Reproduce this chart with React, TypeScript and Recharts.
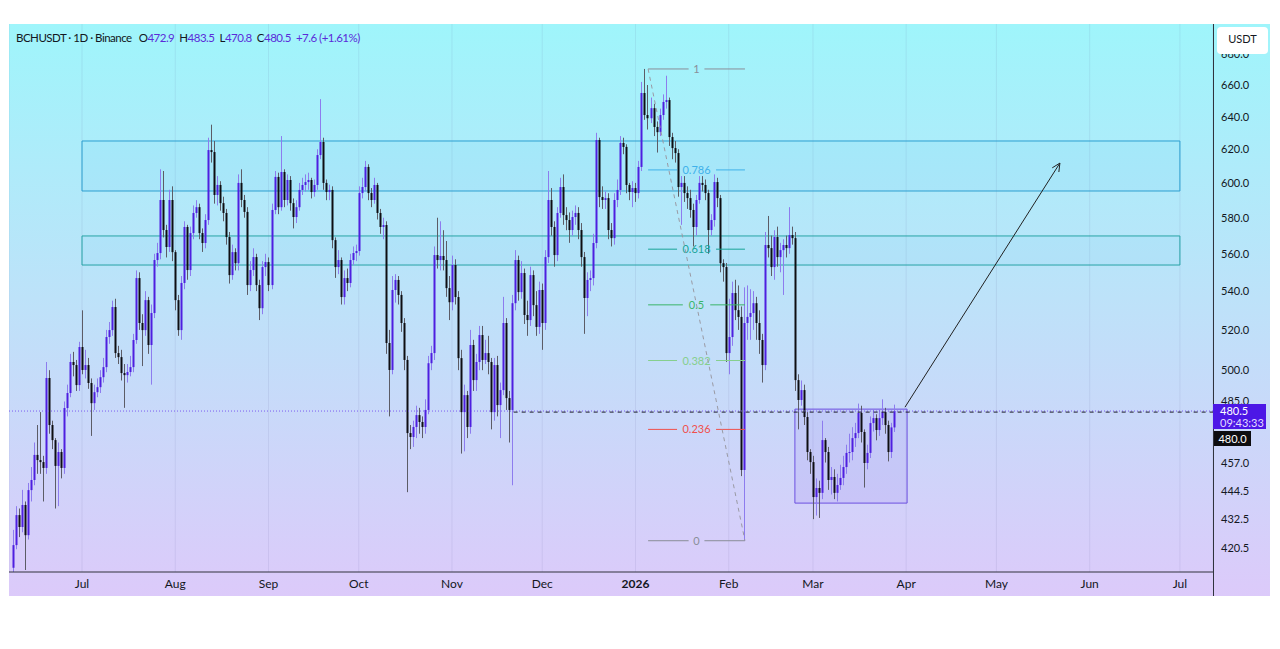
import React from 'react';
import {
  ComposedChart,
  Bar,
  XAxis,
  YAxis,
  CartesianGrid,
  ReferenceArea,
  ReferenceLine,
} from 'recharts';

// day 0 = 1 Jul 2025, first candle is 8 Jun 2025 (day -23)
const firstDay = -23;
const firstOpen = 412.5;

const closes = [
  421.7, 434.2, 429.2, 438.5, 425.8, 444.9, 449.3, 460.4, 458.1, 457.2,
  454.6, 496.2, 474.0, 467.1, 455.5, 461.7, 454.6, 481.9, 489.0, 504.0,
  502.5, 492.8, 511.4, 500.1, 502.5, 493.8, 484.2, 489.4, 491.8, 496.6,
  501.5, 516.4, 519.9, 531.7, 508.4, 506.4, 498.6, 497.6, 499.1, 501.5,
  514.9, 546.9, 523.5, 519.9, 535.3, 512.4, 528.6, 556.6, 560.4, 590.1,
  573.1, 563.7, 590.1, 560.9, 535.3, 519.9, 544.3, 574.8, 551.2, 571.4,
  582.7, 586.0, 571.4, 565.9, 578.7, 619.5, 618.3, 593.0, 598.8, 588.3,
  582.7, 569.2, 548.5, 560.9, 554.9, 600.0, 590.1, 583.3, 543.2, 551.2,
  558.2, 543.2, 531.1, 552.8, 555.5, 543.2, 584.4, 603.5, 586.0, 606.4,
  590.1, 601.7, 588.3, 580.4, 586.0, 595.9, 598.8, 600.5, 601.7, 594.7,
  598.8, 616.5, 624.4, 600.0, 594.7, 595.9, 567.5, 552.8, 556.6, 536.9,
  546.9, 544.3, 556.6, 560.4, 561.5, 594.1, 597.6, 609.4, 594.1, 590.1,
  598.8, 582.7, 574.8, 575.9, 513.4, 500.1, 540.6, 545.9, 538.0, 523.5,
  505.0, 470.3, 468.5, 473.1, 478.6, 475.4, 473.1, 481.0, 503.4, 508.4,
  559.3, 556.6, 558.8, 556.6, 541.6, 534.2, 553.9, 536.9, 505.9, 480.0,
  488.0, 473.1, 512.4, 495.2, 504.0, 517.4, 505.0, 508.4, 504.0, 480.0,
  502.5, 483.3, 490.4, 523.5, 486.6, 481.0, 533.7, 556.6, 539.5, 549.6,
  527.6, 525.0, 548.5, 532.7, 521.5, 540.6, 523.5, 558.2, 590.1, 574.8,
  559.3, 582.7, 597.6, 581.5, 578.7, 573.1, 580.4, 582.7, 573.1, 558.2,
  536.4, 545.9, 546.9, 565.9, 625.6, 591.8, 590.1, 591.2, 573.1, 568.6,
  590.1, 595.9, 623.8, 621.4, 598.8, 594.7, 597.0, 594.1, 609.4, 654.9,
  641.0, 639.0, 645.3, 633.6, 630.4, 641.0, 649.2, 650.4, 627.4, 620.7,
  617.7, 597.6, 600.0, 594.1, 591.2, 584.4, 574.8, 590.1, 600.0, 598.8,
  594.1, 573.1, 578.7, 600.5, 591.2, 554.9, 552.8, 508.4, 516.4, 539.0,
  530.1, 526.6, 453.7, 523.5, 526.6, 528.6, 533.7, 523.5, 514.9, 502.5,
  564.8, 563.1, 552.8, 569.2, 558.2, 562.0, 564.8, 563.1, 570.3, 568.6,
  495.2, 485.7, 490.4, 477.7, 461.7, 457.2, 441.9, 445.8, 443.7, 467.1,
  461.7, 449.3, 450.6, 443.7, 447.1, 450.2, 455.0, 461.3, 461.7, 468.0,
  470.3, 479.6, 470.8, 456.8, 461.3, 474.9, 477.2, 471.7, 477.2, 480.0,
  474.0, 461.7, 472.9, 480.5,
];

const highs = [
  428, 438, 437, 445, 440, 448, 455, 466, 474, 480,
  460, 504, 500, 476, 468, 466, 463, 485, 493, 508,
  509, 505, 514, 530, 510, 506, 496, 493, 496, 500,
  506, 520, 524, 535, 536, 512, 510, 503, 503, 507,
  518, 551, 550, 528, 540, 537, 533, 560, 566, 608,
  607, 576, 596, 598, 562, 538, 548, 578, 576, 575,
  587, 590, 588, 574, 582, 627, 635, 625, 604, 601,
  592, 585, 572, 565, 563, 605, 608, 593, 586, 556,
  563, 560, 546, 556, 560, 558, 588, 607, 606, 628,
  608, 605, 604, 591, 590, 600, 603, 605, 606, 603,
  602, 620, 651, 627, 602, 599, 598, 569, 562, 558,
  551, 552, 560, 564, 565, 598, 603, 613, 611, 597,
  603, 600, 585, 580, 578, 520, 548, 549, 548, 540,
  526, 507, 474, 476, 483, 482, 478, 486, 507, 512,
  564, 580, 578, 573, 567, 548, 559, 557, 540, 510,
  493, 490, 520, 515, 508, 522, 522, 515, 517, 506,
  506, 507, 494, 537, 526, 490, 538, 562, 559, 556,
  552, 535, 553, 551, 540, 545, 544, 562, 607, 597,
  578, 586, 603, 605, 586, 583, 584, 587, 586, 577,
  561, 550, 551, 571, 630, 627, 598, 595, 594, 577,
  594, 602, 628, 627, 623, 600, 601, 600, 613, 662,
  670.4, 660, 652, 648, 637, 645, 654, 666, 652, 630,
  625, 620, 604, 604, 598, 596, 588, 593, 604, 604,
  602, 596, 582, 605, 603, 593, 557, 555, 536, 545,
  546, 543, 532, 542, 543, 541, 540, 537, 530, 518,
  572, 581, 570, 573, 575, 566, 568, 570, 586, 575,
  572, 498, 495, 493, 480, 463, 460, 450, 449, 476,
  468, 464, 455, 454, 452, 456, 460, 465, 470, 473,
  475, 484, 483, 472, 465, 478, 481, 479, 481, 486,
  482, 476, 475, 483.5,
];

const lows = [
  410.8, 420, 425, 427, 411.6, 424, 440, 447, 452, 452,
  440, 452, 470, 463, 437, 438, 450, 452, 478, 487,
  497, 490, 490, 498, 496, 491, 469, 481, 487, 489,
  494, 499, 513, 517, 506, 503, 495, 482, 494, 497,
  499, 513, 520, 502, 517, 508, 493, 526, 553, 557,
  569, 558, 561, 556, 530, 517, 515, 541, 546, 548,
  568, 580, 568, 561, 563, 576, 612, 588, 587, 584,
  578, 565, 544, 546, 551, 551, 586, 580, 538, 540,
  548, 540, 525, 528, 548, 540, 541, 582, 582, 584,
  586, 587, 584, 574, 577, 584, 593, 595, 596, 591,
  592, 596, 614, 596, 590, 590, 563, 547, 549, 533,
  533, 540, 542, 554, 556, 559, 591, 595, 590, 586,
  588, 579, 571, 568, 508, 478, 498, 534, 533, 519,
  500, 444, 463, 464, 468, 470, 468, 470, 479, 500,
  505, 552, 551, 551, 537, 525, 530, 533, 500, 461,
  462, 468, 470, 490, 490, 500, 500, 503, 498, 472,
  476, 478, 468, 488, 481, 466, 447, 530, 535, 536,
  523, 517, 522, 527, 517, 518, 510, 520, 555, 570,
  553, 556, 580, 576, 573, 566, 570, 576, 568, 553,
  518, 527, 540, 543, 563, 586, 585, 585, 568, 564,
  565, 586, 593, 617, 594, 590, 586, 589, 591, 607,
  638, 632, 636, 628, 618, 628, 638, 645, 622, 614,
  612, 592, 576, 589, 585, 580, 564, 570, 588, 595,
  590, 560, 570, 575, 586, 550, 545, 504, 498, 512,
  525, 520, 451, 423.5, 515, 515, 520, 515, 508, 494,
  500, 558, 548, 546, 553, 550, 538, 558, 560, 565,
  490, 472, 483, 474, 458, 452, 432.5, 434, 433, 441,
  457, 445, 443, 441, 440, 445, 447, 452, 457, 458,
  464, 468, 466, 446, 454, 459, 471, 467, 469, 474,
  470, 457.5, 459, 470.8,
];

const monthDays = [0, 31, 62, 92, 123, 153, 184, 215, 243, 274, 304, 335, 365];
const monthNames = ['Jul', 'Aug', 'Sep', 'Oct', 'Nov', 'Dec', '2026', 'Feb', 'Mar', 'Apr', 'May', 'Jun', 'Jul'];
const priceTicks = [420.5, 432.5, 444.5, 457, 485, 500, 520, 540, 560, 580, 600, 620, 640, 660, 680];

// fib retracement anchors (day, price)
const fibHigh = { day: 188.2, price: 670.4 };
const fibLow = { day: 220.4, price: 423.5 };
const fibLevels = [1, 0.786, 0.618, 0.5, 0.382, 0.236, 0];
const fibColors = ['#8a8e98', '#3fb1ea', '#17a398', '#3bb56a', '#86cf8e', '#f0504c', '#8a8e98'];

const FONT = 'Lato, "Noto Sans", sans-serif';
const UP = '#4e1fe0';
const UP_WICK = '#8d7cee';
const DOWN = '#0e0e12';
const DOWN_WICK = '#5c5c66';

const candles = closes.map((close, k) => {
  const open = k === 0 ? firstOpen : closes[k - 1];
  return {
    day: firstDay + k,
    open,
    close,
    high: Math.max(highs[k], open, close),
    low: Math.min(lows[k], open, close),
  };
});

const Candle = (props: any) => {
  const { x, y, width, height, payload } = props;
  if (!payload || x == null || y == null) return null;
  const top = Math.min(y, y + height);
  const h = Math.abs(height);
  const lh = Math.log(payload.high);
  const ll = Math.log(payload.low);
  const toPx = (v: number) => (lh === ll ? top : top + ((lh - Math.log(v)) / (lh - ll)) * h);
  const up = payload.close >= payload.open;
  const yo = toPx(payload.open);
  const yc = toPx(payload.close);
  const n = Math.floor(x + width / 2);
  const bt = Math.min(yo, yc);
  const bh = Math.max(1, Math.abs(yc - yo));
  return (
    <g>
      <line x1={n + 0.5} x2={n + 0.5} y1={top} y2={top + h} stroke={up ? UP_WICK : DOWN_WICK} strokeWidth={1} />
      <rect x={n - 0.5} y={bt} width={2} height={bh} fill={up ? UP : DOWN} />
    </g>
  );
};

const MonthTick = (props: any) => {
  const { x, y, payload } = props;
  const label = monthNames[monthDays.indexOf(payload.value)];
  return (
    <text x={x} y={y} dy={16} textAnchor="middle" fill="#131722" fontSize={12} fontFamily={FONT} fontWeight={label === '2026' ? 700 : 400}>
      {label}
    </text>
  );
};

const PriceTick = (props: any) => {
  const { x, y, payload } = props;
  return (
    <text x={x + 8} y={y} dy={4} textAnchor="start" fill="#131722" fontSize={11} fontFamily={FONT}>
      {Number(payload.value).toFixed(1)}
    </text>
  );
};

const fibShape = (label: string, color: string) => (p: any) => {
  const { x1, y1, x2 } = p;
  const mid = (x1 + x2) / 2;
  const half = label.length * 2.9 + 5;
  return (
    <g>
      <line x1={x1} x2={mid - half} y1={y1} y2={y1} stroke={color} strokeWidth={1} />
      <line x1={mid + half} x2={x2} y1={y1} y2={y1} stroke={color} strokeWidth={1} />
      <text x={mid} y={y1} dy={4} textAnchor="middle" fill={color} fontSize={11} fontFamily={FONT}>
        {label}
      </text>
    </g>
  );
};

const arrowShape = (p: any) => {
  const { x1, y1, x2, y2 } = p;
  const ang = Math.atan2(y2 - y1, x2 - x1);
  const len = 9;
  const a1 = ang + Math.PI - 0.45;
  const a2 = ang + Math.PI + 0.45;
  return (
    <g>
      <line x1={x1} y1={y1} x2={x2} y2={y2} stroke="#222" strokeWidth={1} />
      <polyline
        points={`${x2 + len * Math.cos(a1)},${y2 + len * Math.sin(a1)} ${x2},${y2} ${x2 + len * Math.cos(a2)},${y2 + len * Math.sin(a2)}`}
        fill="none"
        stroke="#222"
        strokeWidth={1}
      />
    </g>
  );
};

const fibPrice = (f: number) =>
  Math.exp(Math.log(fibLow.price) + f * (Math.log(fibHigh.price) - Math.log(fibLow.price)));

export default function App() {
  const W = 1261;
  const H = 572;
  return (
    <div style={{ paddingTop: 16, paddingLeft: 1 }}>
      <div
        style={{
          position: 'relative',
          width: W,
          height: H,
          background: 'linear-gradient(to bottom, #9ff5fb 0%, #bde2f9 48%, #dccafa 100%)',
          fontFamily: FONT,
        }}
      >
        <ComposedChart width={W} height={H} data={candles} margin={{ top: 0, right: 0, bottom: 0, left: 0 }}>
          <CartesianGrid vertical horizontal={false} stroke="rgba(90,90,150,0.10)" />
          <XAxis
            dataKey="day"
            type="number"
            domain={[-24.27, 376]}
            allowDataOverflow
            ticks={monthDays}
            interval={0}
            tick={<MonthTick />}
            tickLine={false}
            tickSize={0}
            tickMargin={0}
            axisLine={{ stroke: '#30333d' }}
            height={24}
          />
          <YAxis
            orientation="right"
            scale="log"
            domain={[410.8, 700.4]}
            allowDataOverflow
            ticks={priceTicks}
            interval={0}
            tick={<PriceTick />}
            tickLine={false}
            tickSize={0}
            tickMargin={0}
            axisLine={false}
            width={57}
          />
          <ReferenceArea x1={0} x2={365} y1={595.3} y2={625.0} fill="#4fc3f7" fillOpacity={0.08} stroke="#2c9fd0" strokeWidth={1} ifOverflow="visible" />
          <ReferenceArea x1={0} x2={365} y1={553.9} y2={569.8} fill="#4fc3f7" fillOpacity={0.07} stroke="#27a3a6" strokeWidth={1} ifOverflow="visible" />
          <ReferenceArea x1={237} x2={274.3} y1={439.3} y2={481.4} fill="#7b5cf0" fillOpacity={0.1} stroke="#6c4fe0" strokeWidth={1} ifOverflow="visible" />
          {fibLevels.map((f, k) => (
            <ReferenceLine
              key={`fib-${f}`}
              segment={[
                { x: fibHigh.day, y: fibPrice(f) },
                { x: fibLow.day, y: fibPrice(f) },
              ]}
              stroke={fibColors[k]}
              ifOverflow="visible"
              shape={fibShape(String(f), fibColors[k])}
            />
          ))}
          <ReferenceLine
            segment={[
              { x: fibHigh.day, y: fibHigh.price },
              { x: fibLow.day, y: fibLow.price },
            ]}
            stroke="#9a9aa4"
            strokeDasharray="4 4"
            ifOverflow="visible"
          />
          <ReferenceLine y={480.5} stroke="#7a5cf0" strokeDasharray="1 2" ifOverflow="visible" />
          <ReferenceLine
            segment={[
              { x: 143.5, y: 480 },
              { x: 376, y: 480 },
            ]}
            stroke="#1c1c28"
            strokeDasharray="4 4"
            ifOverflow="visible"
          />
          <Bar
            dataKey={(d: any) => [d.low, d.high]}
            barSize={2}
            shape={<Candle />}
            isAnimationActive={false}
          />
          <ReferenceLine
            segment={[
              { x: 273.6, y: 482.3 },
              { x: 325.1, y: 611.7 },
            ]}
            stroke="#222"
            ifOverflow="visible"
            shape={arrowShape}
          />
        </ComposedChart>

        <div style={{ position: 'absolute', left: 1204, top: 0, width: 1, height: H, background: '#30333d' }} />

        <div style={{ position: 'absolute', left: 7, top: 7, fontSize: 11.5, letterSpacing: -0.5, color: '#131722', whiteSpace: 'nowrap' }}>
          <span>BCHUSDT · 1D · Binance</span>
          <span style={{ marginLeft: 7 }}>O</span>
          <span style={{ color: '#5b2bd9' }}>472.9</span>
          <span style={{ marginLeft: 5 }}>H</span>
          <span style={{ color: '#5b2bd9' }}>483.5</span>
          <span style={{ marginLeft: 5 }}>L</span>
          <span style={{ color: '#5b2bd9' }}>470.8</span>
          <span style={{ marginLeft: 5 }}>C</span>
          <span style={{ color: '#5b2bd9' }}>480.5</span>
          <span style={{ marginLeft: 5, color: '#5b2bd9' }}>+7.6 (+1.61%)</span>
        </div>

        <div
          style={{
            position: 'absolute',
            left: 1208,
            top: 3,
            width: 51,
            height: 27,
            background: '#fff',
            borderRadius: 4,
            fontSize: 11,
            lineHeight: '24px',
            textAlign: 'center',
            color: '#131722',
          }}
        >
          USDT
        </div>

        <div
          style={{
            position: 'absolute',
            left: 1204,
            top: 380,
            width: 53,
            height: 25,
            background: '#4c17e6',
            fontSize: 11,
            lineHeight: '12px',
            paddingLeft: 7,
            paddingTop: 1,
            boxSizing: 'border-box',
            color: '#fff',
          }}
        >
          <div>480.5</div>
          <div style={{ color: '#e4dcff' }}>09:43:33</div>
        </div>
        <div
          style={{
            position: 'absolute',
            left: 1205,
            top: 407,
            width: 37,
            height: 15,
            background: '#0d0d10',
            fontSize: 11,
            lineHeight: '15px',
            textAlign: 'center',
            color: '#fff',
          }}
        >
          480.0
        </div>
      </div>
    </div>
  );
}
